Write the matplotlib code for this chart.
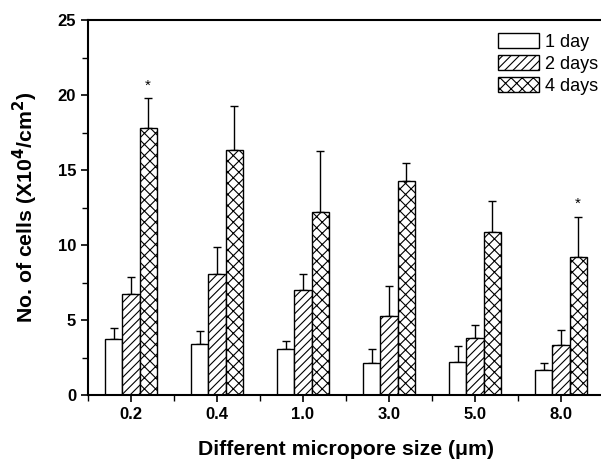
import matplotlib.pyplot as plt
import numpy as np

plt.rcParams['font.family'] = ['Liberation Sans', 'DejaVu Sans']
plt.rcParams['hatch.linewidth'] = 0.8

sizes = ['0.2', '0.4', '1.0', '3.0', '5.0', '8.0']
labels = ['1 day', '2 days', '4 days']
day1 = [3.75, 3.4, 3.05, 2.15, 2.2, 1.7]
day2 = [6.75, 8.1, 7.0, 5.3, 3.8, 3.35]
day4 = [17.8, 16.35, 12.2, 14.3, 10.9, 9.2]
day1_err = [0.7, 0.9, 0.55, 0.95, 1.05, 0.45]
day2_err = [1.15, 1.8, 1.1, 1.95, 0.85, 1.0]
day4_err = [2.0, 2.95, 4.1, 1.2, 2.05, 2.7]
star_idx = [0, 5]

fig = plt.figure(figsize=(6.01, 4.59), dpi=100)
ax = fig.add_axes([88/601, 64/459, 516/601, 375/459])

x = np.arange(len(sizes))
w = 0.2
series = [day1, day2, day4]
errs = [day1_err, day2_err, day4_err]
hatches = ['', '////', 'xxx']
for i in range(3):
    pos = x + (i - 1) * w
    ax.bar(pos, series[i], w, color='white', edgecolor='black', linewidth=1.0,
           hatch=hatches[i], label=labels[i], zorder=2)
    ax.errorbar(pos, series[i], yerr=[np.zeros(len(x)), errs[i]], fmt='none',
                ecolor='black', elinewidth=1.0, capsize=3, capthick=1.0, zorder=1)

for j in star_idx:
    ax.text(x[j] + w, day4[j] + day4_err[j] + 0.35, '*', ha='center', va='bottom', fontsize=11)

ax.set_xlim(-0.5, 5.5)
ax.set_ylim(0, 25)
ax.set_xticks(x)
ax.set_xticklabels(sizes, fontweight='bold', fontsize=12)
ax.set_xticks(np.arange(-0.5, 5.6, 1.0), minor=True)
ax.set_yticks([0, 5, 10, 15, 20, 25])
ax.set_yticklabels(['0', '5', '10', '15', '20', '25'], fontweight='bold', fontsize=12)
ax.set_yticks(np.arange(2.5, 25, 5), minor=True)
ax.tick_params(axis='both', which='major', length=5, width=1.2, direction='out')
ax.tick_params(axis='both', which='minor', length=4, width=1.0, direction='out')
for s in ax.spines.values():
    s.set_linewidth(1.5)

ax.set_xlabel('Different micropore size (\u03bcm)', fontsize=15.3, fontweight='bold', labelpad=13)
ax.set_ylabel('No. of cells (X10$^{\\mathbf{4}}$/cm$^{\\mathbf{2}}$)', fontsize=15.3, fontweight='bold', labelpad=13)

ax.legend(loc='upper left', bbox_to_anchor=(406/516, 0.975), frameon=False, fontsize=13,
          handlelength=2.3, handleheight=0.9, handletextpad=0.3, labelspacing=0.25,
          borderpad=0.2, borderaxespad=0)

fig.savefig('out.png', dpi=100)
